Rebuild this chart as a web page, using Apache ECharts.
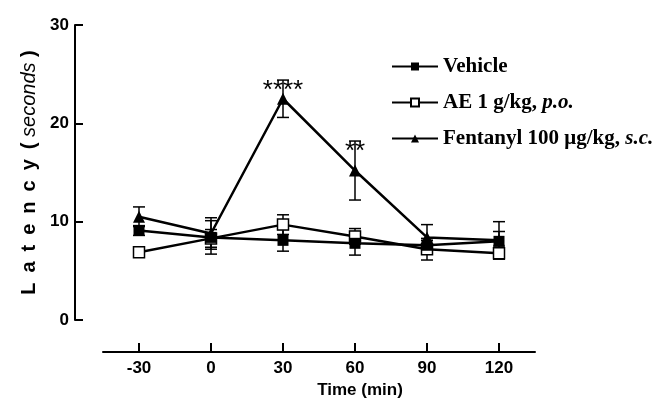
<!DOCTYPE html>
<html><head><meta charset="utf-8">
<script src="https://cdn.jsdelivr.net/npm/echarts@6/dist/echarts.min.js"></script>
<style>html,body{margin:0;padding:0;background:#fff}#c{width:665px;height:399px}</style>
</head><body><div id="c"></div>
<script>
const times = [-30, 0, 30, 60, 90, 120];
const xTicks = [-30, 0, 30, 60, 90, 120];
const vehicleMean = [9.1, 8.4, 8.1, 7.8, 7.6, 8.0];
const vehicleSem = [0.5, 1.7, 1.1, 1.2, 0.5, 1.0];
const aeMean = [6.9, 8.3, 9.7, 8.5, 7.2, 6.8];
const aeSem = [0.4, 0.9, 1.0, 0.8, 1.1, 0.6];
const fentMean = [10.5, 8.8, 22.5, 15.2, 8.4, 8.1];
const fentSem = [1.0, 1.6, 1.9, 3.0, 1.3, 1.9];
const fentSig = ['', '', '****', '**', '', ''];
const seriesNames = ['Vehicle', 'AE 1 g/kg, p.o.', 'Fentanyl 100 μg/kg, s.c.'];
const legendRich = {
  'Vehicle': '{b|Vehicle}',
  'AE 1 g/kg, p.o.': '{b|AE 1 g/kg, }{i|p.o.}',
  'Fentanyl 100 μg/kg, s.c.': '{b|Fentanyl 100 μg/kg, }{i|s.c.}'
};

const SANS = "'Liberation Sans', Arial, sans-serif";
const SERIF = "'Liberation Serif', 'Times New Roman', serif";
const SP = '\u2002';

function pts(mean) { return times.map((t, i) => [t, mean[i]]); }
function errData(mean, sem) { return times.map((t, i) => [t, mean[i] - sem[i], mean[i] + sem[i]]); }

function errSeries(mean, sem) {
  return {
    type: 'custom', z: 1, silent: true,
    data: errData(mean, sem),
    encode: { x: 0, y: [1, 2] },
    renderItem: function (params, api) {
      const x = api.value(0);
      const lo = api.coord([x, api.value(1)]);
      const hi = api.coord([x, api.value(2)]);
      const hw = 6;
      const st = { stroke: '#000', lineWidth: 1.5 };
      return {
        type: 'group', children: [
          { type: 'line', shape: { x1: lo[0], y1: lo[1], x2: hi[0], y2: hi[1] }, style: st },
          { type: 'line', shape: { x1: lo[0] - hw, y1: lo[1], x2: lo[0] + hw, y2: lo[1] }, style: st },
          { type: 'line', shape: { x1: hi[0] - hw, y1: hi[1], x2: hi[0] + hw, y2: hi[1] }, style: st }
        ]
      };
    }
  };
}

const sigSeries = {
  type: 'custom', z: 5, silent: true,
  data: times.map((t, i) => [t, fentMean[i] + fentSem[i]]),
  encode: { x: 0, y: 1 },
  renderItem: function (params, api) {
    const txt = fentSig[params.dataIndex];
    if (!txt) return null;
    const p = api.coord([api.value(0), api.value(1)]);
    return {
      type: 'text',
      style: { x: p[0], y: p[1] + 11, text: txt, fill: '#000', font: "26px " + SANS, align: 'center', verticalAlign: 'middle' }
    };
  }
};

const chart = echarts.init(document.getElementById('c'));
chart.setOption({
  animation: false,
  backgroundColor: '#fff',
  grid: { left: 103, right: 130, top: 25, bottom: 79, containLabel: false, outerBoundsMode: 'none' },
  legend: {
    data: seriesNames,
    orient: 'vertical',
    left: 386, top: 51,
    itemWidth: 46, itemHeight: 10, itemGap: 15,
    formatter: function (n) { return legendRich[n]; },
    textStyle: {
      color: '#000',
      rich: {
        b: { fontFamily: SERIF, fontWeight: 'bold', fontSize: 21, color: '#000' },
        i: { fontFamily: SERIF, fontWeight: 'bold', fontStyle: 'italic', fontSize: 21, color: '#000' }
      }
    }
  },
  xAxis: {
    type: 'value', min: -45, max: 135, offset: 32,
    name: 'Time (min)', nameLocation: 'middle', nameGap: 30,
    nameTextStyle: { fontFamily: SANS, fontWeight: 'bold', fontSize: 17, color: '#000', padding: [0, 0, 0, 82] },
    axisLine: { show: true, onZero: false, lineStyle: { color: '#000', width: 2 } },
    axisTick: { show: true, inside: true, length: 9, customValues: xTicks, lineStyle: { color: '#000', width: 2 } },
    axisLabel: { customValues: xTicks, margin: 8, fontFamily: SANS, fontWeight: 'bold', fontSize: 17, color: '#000' },
    splitLine: { show: false }
  },
  yAxis: {
    type: 'value', min: 0, max: 30, interval: 10, offset: 28,
    name: '{b|' + ['L', 'a', 't', 'e', 'n', 'c', 'y', '('].join(SP) + ' }{i|seconds}{b| )}',
    nameLocation: 'middle', nameGap: 36,
    nameTextStyle: {
      rich: {
        b: { fontFamily: SANS, fontWeight: 'bold', fontSize: 20, color: '#000' },
        i: { fontFamily: SANS, fontStyle: 'italic', fontSize: 20, color: '#000' }
      }
    },
    axisLine: { show: true, onZero: false, lineStyle: { color: '#000', width: 2 } },
    axisTick: { show: true, inside: true, length: 8, lineStyle: { color: '#000', width: 2 } },
    axisLabel: { margin: 6, fontFamily: SANS, fontWeight: 'bold', fontSize: 17, color: '#000' },
    splitLine: { show: false }
  },
  series: [
    errSeries(aeMean, aeSem),
    errSeries(fentMean, fentSem),
    errSeries(vehicleMean, vehicleSem),
    {
      name: seriesNames[1], type: 'line', z: 2, data: pts(aeMean),
      symbol: 'rect', symbolSize: 11,
      lineStyle: { color: '#000', width: 2.5 },
      itemStyle: { color: '#fff', borderColor: '#000', borderWidth: 1.5 }
    },
    {
      name: seriesNames[2], type: 'line', z: 3, data: pts(fentMean),
      symbol: 'triangle', symbolSize: 12,
      lineStyle: { color: '#000', width: 2.5 },
      itemStyle: { color: '#000' }
    },
    {
      name: seriesNames[0], type: 'line', z: 4, data: pts(vehicleMean),
      symbol: 'rect', symbolSize: 11,
      lineStyle: { color: '#000', width: 2.5 },
      itemStyle: { color: '#000' }
    },
    sigSeries
  ]
});
</script></body></html>
